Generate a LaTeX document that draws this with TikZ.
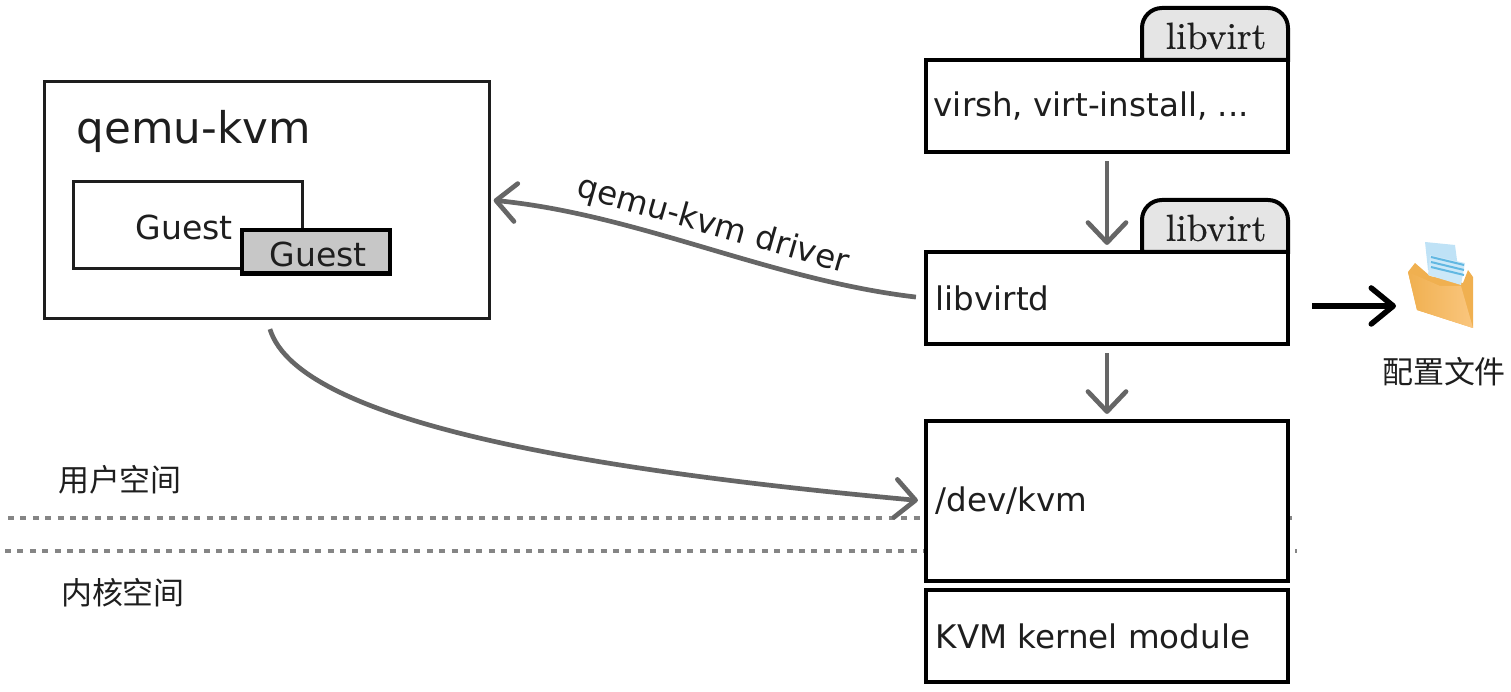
\documentclass[tikz,border=0pt]{standalone}
\usepackage{fontspec}
\setsansfont{DejaVu Sans}
\newfontfamily\cjk{Noto Sans CJK SC}
\newfontfamily\tabfont[FakeBold=0.6]{Latin Modern Roman}
\usetikzlibrary{arrows.meta,calc}
\definecolor{arrowgray}{HTML}{666666}
\definecolor{inkgray}{HTML}{1E1E1E}
\definecolor{foldertop}{HTML}{F0B050}
\definecolor{folderlow}{HTML}{FAC67E}
\definecolor{paperblue}{HTML}{BFE2F6}
\definecolor{paperline}{HTML}{62B8E2}
\tikzset{
	heavybox/.style={draw=black, line width=0.04cm, fill=white, inner sep=0pt},
	thinbox/.style={draw=inkgray, line width=0.03cm, fill=white, inner sep=0pt},
	boxtext/.style={anchor=west, inner sep=0pt, text=inkgray, font=\sffamily\fontsize{9.25}{12}\selectfont},
	cjktext/.style={inner sep=0pt, text=inkgray, font=\cjk\fontsize{8.8}{10}\selectfont},
	graylink/.style={draw=arrowgray, line width=0.047cm, -{Straight Barb[length=0.2cm,width=0.38cm,round]}},
	spacedash/.style={draw=black!48, line width=0.035cm, dash pattern=on 0.06cm off 0.064cm}
}
\def\libtab(#1,#2)[#3]{\draw[line width=0.04cm, fill=black!10, rounded corners=0.2cm] (#1, #2) -- (#1, #2-52) -- (#1+146, #2-52) [sharp corners] -- (#1+146, #2) -- cycle;
	\node[inner sep=0pt, text=inkgray, font=\tabfont\fontsize{10.7}{12}\selectfont] (#3) at (#1+74, #2-24) {libvirt};}

\begin{document}
\begin{tikzpicture}[x=0.01cm, y=-0.01cm]
	\useasboundingbox (0, 0) rectangle (1511, 692);

	% user space / kernel space
	\coordinate (upperleft) at (8, 518);
	\coordinate (upperright) at (1293, 518);
	\coordinate (lowerleft) at (5, 551);
	\coordinate (lowerright) at (1297, 551);
	\draw[spacedash] (upperleft) -- (upperright);
	\draw[spacedash] (lowerleft) -- (lowerright);
	\node[cjktext] (userspace) at (120, 480) {用户空间};
	\node[cjktext] (kernelspace) at (123, 593) {内核空间};

	% qemu side
	\node[thinbox, minimum width=4.44cm, minimum height=2.36cm] (qemu) at (267, 200) {};
	\node[boxtext, font=\sffamily\fontsize{12.4}{14}\selectfont] (qemulabel) at (76, 131) {qemu-kvm};
	\node[thinbox, minimum width=2.28cm, minimum height=0.87cm] (guestback) at (188, 225) {};
	\node[boxtext, font=\sffamily\fontsize{9.4}{11}\selectfont] (guestbacklabel) at (135, 227) {Guest};
	\node[heavybox, fill=black!22, minimum width=1.48cm, minimum height=0.43cm] (guestfront) at (316, 252) {};
	\node[boxtext, font=\sffamily\fontsize{9.4}{11}\selectfont] (guestfrontlabel) at (269, 254) {Guest};

	% libvirt stack
	\libtab(1142, 60)[tabtop]
	\libtab(1142, 252)[tabmid]
	\node[heavybox, minimum width=3.62cm, minimum height=0.92cm] (virsh) at (1107, 106) {};
	\node[boxtext] (virshlabel) at (933, 106) {virsh, virt-install, ...};
	\node[heavybox, minimum width=3.62cm, minimum height=0.92cm] (libvirtd) at (1107, 298) {};
	\node[boxtext] (libvirtdlabel) at (935, 298) {libvirtd};
	\node[heavybox, minimum width=3.62cm, minimum height=1.60cm] (devkvm) at (1107, 501) {};
	\node[boxtext] (devkvmlabel) at (935, 501) {/dev/kvm};
	\node[heavybox, minimum width=3.62cm, minimum height=0.92cm] (kvmmodule) at (1107, 636) {};
	\node[boxtext] (kvmmodulelabel) at (935, 636) {KVM kernel module};

	% connectors
	\draw[graylink, shorten <=0.07cm, shorten >=0.05cm] (virsh.south) -- (libvirtd.north);
	\draw[graylink, shorten <=0.07cm, shorten >=0.05cm] (libvirtd.south) -- (devkvm.north);
	\draw[graylink, shorten <=0.08cm, shorten >=0.03cm] (libvirtd.west) .. controls (770, 280) and (640, 215) .. (qemu.east);
	\draw[graylink, shorten <=0.1cm, shorten >=0.06cm] (qemu.south) .. controls (300, 427) and (620, 473) .. (devkvm.west);
	\node[boxtext, anchor=center, rotate=-16] (driverlabel) at (713, 226) {qemu-kvm driver};

	% folder icon
	\coordinate (folder) at (1396, 306);
	\draw[line width=0.055cm, -{Straight Barb[length=0.22cm,width=0.36cm,round]}] (1312, 306) -- (folder);
	\fill[paperblue] (1425, 242) -- (1455, 245) -- (1459, 275) -- (1428, 270) -- cycle;
	\fill[foldertop] (1408, 272) -- (1415, 263) -- (1430, 276) -- (1463, 283) -- (1468, 270) -- (1473, 277) -- (1473, 328) -- (1417, 310) -- cycle;
	\fill[paperblue!80!white] (1430, 255) -- (1465, 263) -- (1461, 285) -- (1428, 275) -- cycle;
	\foreach \y in {257, 262, 267} {
		\draw[paperline, line width=0.02cm] (1431, \y) -- (1464, \y+8);
	}
	\shade[left color=foldertop, right color=folderlow] (1408, 272) -- (1440, 286) -- (1461, 286) -- (1473, 328) -- (1417, 310) -- cycle;
	\node[cjktext] (configlabel) at (1444, 372) {配置文件};
\end{tikzpicture}
\end{document}
